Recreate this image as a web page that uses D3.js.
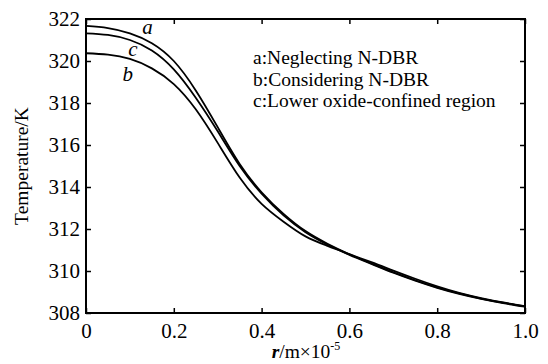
<!DOCTYPE html>
<html>
<head>
<meta charset="utf-8">
<script src="https://cdn.jsdelivr.net/npm/d3@7"></script>
</head>
<body style="margin:0;background:#fff">
<svg width="548" height="364"></svg>
<script>
const svg = d3.select('svg');
const serif = 'Liberation Serif';

// radius values (r / m x 10^-5)
const rValues = [0, 0.05, 0.1, 0.15, 0.2, 0.25, 0.3, 0.35, 0.4, 0.45, 0.5,
    0.55, 0.6, 0.65, 0.7, 0.75, 0.8, 0.85, 0.9, 0.95, 1.0];

// a: Neglecting N-DBR
const tempA = [321.67, 321.57, 321.32, 320.85, 320.0, 318.6, 316.85, 315.1, 313.75, 312.72, 311.9,
    311.3, 310.8, 310.36, 309.94, 309.56, 309.22, 308.93, 308.69, 308.49, 308.32];
// b: Considering N-DBR
const tempB = [320.37, 320.3, 320.1, 319.65, 318.9, 317.7, 316.1, 314.45, 313.2, 312.35, 311.65,
    311.2, 310.8, 310.42, 310.02, 309.63, 309.27, 308.96, 308.71, 308.5, 308.33];
// c: Lower oxide-confined region
const tempC = [321.32, 321.24, 321.0, 320.5, 319.6, 318.25, 316.65, 315.0, 313.68, 312.65, 311.85,
    311.26, 310.77, 310.34, 309.92, 309.54, 309.2, 308.91, 308.67, 308.47, 308.3];

const xTicks = [0, 0.2, 0.4, 0.6, 0.8, 1.0];
const yTicks = [308, 310, 312, 314, 316, 318, 320, 322];
const legendLines = ['a:Neglecting N-DBR', 'b:Considering N-DBR', 'c:Lower oxide-confined region'];

const margin = { left: 86, right: 23, top: 19, bottom: 51 };
const width = 548, height = 364;

const x = d3.scaleLinear().domain([0, 1]).range([margin.left, width - margin.right]);
const y = d3.scaleLinear().domain([308, 322]).range([height - margin.bottom, margin.top]);

const g = svg.append('g');

// frame
g.append('rect')
    .attr('x', x(0)).attr('y', y(322))
    .attr('width', x(1) - x(0)).attr('height', y(308) - y(322))
    .attr('fill', 'none').attr('stroke', '#000').attr('stroke-width', 2);

// axes with inward ticks
const tickFmt = d => d === 0 ? '0' : d3.format('.1f')(d);
const axBottom = g.append('g')
    .attr('transform', `translate(0,${y(308)})`)
    .call(d3.axisBottom(x).tickValues(xTicks).tickSizeInner(-5).tickSizeOuter(0).tickPadding(10).tickFormat(tickFmt));
const axTop = g.append('g')
    .attr('transform', `translate(0,${y(322)})`)
    .call(d3.axisTop(x).tickValues(xTicks).tickSizeInner(-5).tickSizeOuter(0).tickFormat(''));
const axLeft = g.append('g')
    .attr('transform', `translate(${x(0)},0)`)
    .call(d3.axisLeft(y).tickValues(yTicks).tickSizeInner(-5).tickSizeOuter(0).tickPadding(6).tickFormat(d3.format('d')));
const axRight = g.append('g')
    .attr('transform', `translate(${x(1)},0)`)
    .call(d3.axisRight(y).tickValues(yTicks).tickSizeInner(-5).tickSizeOuter(0).tickFormat(''));

[axBottom, axTop, axLeft, axRight].forEach(ax => {
    ax.attr('font-family', serif).attr('font-size', 21);
    ax.select('.domain').remove();
    ax.selectAll('line').attr('stroke', '#000').attr('stroke-width', 1.5);
    ax.selectAll('text').attr('fill', '#000');
});

// curves
const line = d3.line()
    .x(d => x(d[0]))
    .y(d => y(d[1]))
    .curve(d3.curveNatural);

[tempA, tempB, tempC].forEach(series => {
    g.append('path')
        .datum(rValues.map((r, i) => [r, series[i]]))
        .attr('d', line)
        .attr('fill', 'none')
        .attr('stroke', '#000')
        .attr('stroke-width', 1.8);
});

// curve labels
const curveLabels = [
    { t: 'a', r: 0.14, v: 321.3 },
    { t: 'c', r: 0.107, v: 320.25 },
    { t: 'b', r: 0.095, v: 319.05 }
];
g.selectAll('.clabel').data(curveLabels).enter().append('text')
    .attr('x', d => x(d.r))
    .attr('y', d => y(d.v))
    .attr('text-anchor', 'middle')
    .attr('font-family', serif)
    .attr('font-size', 21)
    .attr('font-style', 'italic')
    .text(d => d.t);

// legend
g.selectAll('.legend').data(legendLines).enter().append('text')
    .attr('x', 253)
    .attr('y', (d, i) => 64 + i * 21.5)
    .attr('font-family', serif)
    .attr('font-size', 19.5)
    .text(d => d);

// axis titles
svg.append('text')
    .attr('transform', `translate(28,${(y(308) + y(322)) / 2}) rotate(-90)`)
    .attr('text-anchor', 'middle')
    .attr('font-family', serif)
    .attr('font-size', 19.5)
    .text('Temperature/K');

const xt = svg.append('text')
    .attr('x', 306)
    .attr('y', 358)
    .attr('text-anchor', 'middle')
    .attr('font-family', serif)
    .attr('font-size', 19.5);
xt.append('tspan').attr('font-style', 'italic').attr('font-weight', 'bold').text('r');
xt.append('tspan').text('/m×10');
xt.append('tspan').attr('dy', -8).attr('font-size', 12).text('-5');
</script>
</body>
</html>
